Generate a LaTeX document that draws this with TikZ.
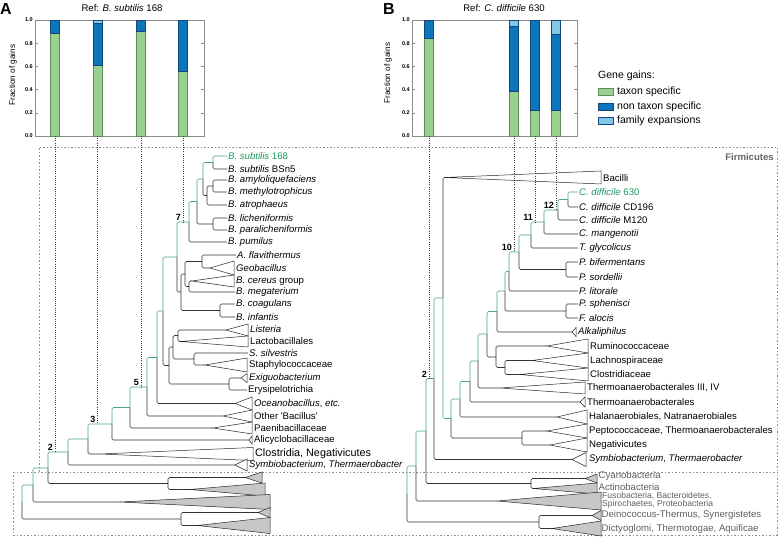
\documentclass[tikz,border=0pt]{standalone}
\usepackage{fontspec}
\setmainfont{Liberation Sans}
\usetikzlibrary{positioning}

\definecolor{taxonGreen}{RGB}{152,208,142}
\definecolor{taxonEdge}{RGB}{95,140,90}
\definecolor{nonTaxonBlue}{RGB}{12,118,188}
\definecolor{nonTaxonEdge}{RGB}{20,70,120}
\definecolor{familyBlue}{RGB}{128,200,230}
\definecolor{pathGreen}{RGB}{72,166,128}
\definecolor{refGreen}{RGB}{30,150,95}
\definecolor{outGray}{RGB}{95,95,95}

\newcommand{\leafsize}{\fontsize{9.6}{11}\selectfont}
\newcommand{\legsize}{\fontsize{10.5}{12}\selectfont}

\tikzset{
  branch/.style={draw=black!80, line width=0.6pt, rounded corners=1.5pt},
  refpath/.style={branch, draw=pathGreen},
  clade/.style={draw=black!85, line width=0.5pt, fill=white},
  outclade/.style={clade, fill=black!22},
  leaf/.style={anchor=west, inner sep=1pt, font=\leafsize},
  outleaf/.style={leaf, inner sep=0.5pt, text=outGray},
  gainnum/.style={anchor=south east, inner sep=0.5pt, xshift=-1.5pt, yshift=0.5pt, font=\bfseries\fontsize{9}{10}\selectfont},
  guide/.style={draw=black!75, line width=0.5pt, dash pattern=on 0.6pt off 1.6pt},
  groupbox/.style={draw=black!45, line width=0.5pt, dash pattern=on 1.5pt off 2pt},
  frame/.style={draw=black!45, line width=0.5pt},
  ticklab/.style={anchor=east, inner sep=1pt, font=\bfseries\fontsize{5.5}{6}\selectfont},
  panel/.style={font=\bfseries\fontsize{16}{16}\selectfont}
}

\begin{document}
\begin{tikzpicture}[x=1pt, y=-1pt]
  \useasboundingbox (0,0) rectangle (780,537);

  % Panel letters and titles
  \node[panel] (panelA) at (6,9) {A};
  \node[panel] (panelB) at (389,9) {B};
  \node[font=\leafsize] (titleA) at (122,8) {Ref: \textit{B. subtilis} 168};
  \node[font=\leafsize] (titleB) at (504,8) {Ref: \textit{C. difficile} 630};
  \node[rotate=90, font=\fontsize{8.2}{9}\selectfont] (yLabA) at (13,75) {Fraction of gains};
  \node[rotate=90, font=\fontsize{8.2}{9}\selectfont] (yLabB) at (388,73) {Fraction of gains};

  % Axes
  \draw[frame] (35,20) rectangle (204,136);
  \draw[frame] (412,20) rectangle (577,136);
  \foreach \v in {0.0,0.2,0.4,0.6,0.8,1.0} {
    \draw[frame] (35,{136-116*\v}) -- (38,{136-116*\v});
    \draw[frame] (204,{136-116*\v}) -- (201,{136-116*\v});
    \draw[frame] (412,{136-116*\v}) -- (415,{136-116*\v});
    \draw[frame] (577,{136-116*\v}) -- (574,{136-116*\v});
    \node[ticklab] at (34,{136-116*\v}) {\v};
    \node[ticklab] at (411,{136-116*\v}) {\v};
  }

  % Bars, reference B. subtilis 168
  \foreach \xx/\tg/\nt [count=\i] in {55/0.89/1.0, 97.5/0.61/0.97, 141/0.90/1.0, 183/0.56/1.0} {
    \filldraw[draw=taxonEdge, fill=taxonGreen, line width=0.4pt] ({\xx-4.5},136) rectangle ({\xx+4.5},{136-116*\tg});
    \filldraw[draw=nonTaxonEdge, fill=nonTaxonBlue, line width=0.4pt] ({\xx-4.5},{136-116*\tg}) rectangle ({\xx+4.5},{136-116*\nt});
    \filldraw[draw=nonTaxonEdge, fill=familyBlue, line width=0.4pt] ({\xx-4.5},{136-116*\nt}) rectangle ({\xx+4.5},20);
    \coordinate (barA\i) at (\xx,136);
  }
  % Bars, reference C. difficile 630
  \foreach \xx/\tg/\nt [count=\i] in {429/0.845/0.995, 514/0.39/0.95, 535/0.22/1.0, 556/0.225/0.875} {
    \filldraw[draw=taxonEdge, fill=taxonGreen, line width=0.4pt] ({\xx-4.5},136) rectangle ({\xx+4.5},{136-116*\tg});
    \filldraw[draw=nonTaxonEdge, fill=nonTaxonBlue, line width=0.4pt] ({\xx-4.5},{136-116*\tg}) rectangle ({\xx+4.5},{136-116*\nt});
    \filldraw[draw=nonTaxonEdge, fill=familyBlue, line width=0.4pt] ({\xx-4.5},{136-116*\nt}) rectangle ({\xx+4.5},20);
    \coordinate (barB\i) at (\xx,136);
  }

  % Legend
  \node[anchor=west, inner sep=1pt, font=\legsize] (legTitle) at (597,76) {Gene gains:};
  \foreach \nm/\yy/\fc/\ec/\lbl in {legTaxon/92/taxonGreen/taxonEdge/taxon specific, legNon/107/nonTaxonBlue/nonTaxonEdge/non taxon specific, legFam/121/familyBlue/nonTaxonEdge/family expansions} {
    \filldraw[draw=\ec, fill=\fc, line width=0.4pt] (598,{\yy-3.5}) rectangle (613,{\yy+3.5});
    \node[anchor=west, inner sep=1pt, font=\legsize] (\nm) at (616,\yy) {\lbl};
  }

  % Group boxes
  \draw[groupbox] (39,472) -- (39,147) -- (777,147) -- (777,472);
  \draw[groupbox] (13,472) rectangle (777,535);
  \node[anchor=north east, inner sep=1pt, text=black!60, font=\bfseries\fontsize{9.6}{11}\selectfont] (firmLab) at (775,152) {Firmicutes};

  % Tree A: inner nodes
  \foreach \nm/\xx/\yy in {nsub/213/162.5, namy/213/186, namyatr/207/195.5, nsubamy/203/179, nlich/213/224,
      nsub3/197/201.5, nsub4/189/222, nflaGeo/202/261.5, ncerMeg/189/286.5, nGeoGrp/185/274, nCoag/220/310.5,
      nGeoCoag/181/292, n7/177/257, nLisLac/178/335.5, nSilSta/194/359, nLSS/173/347, nExiEry/229/384,
      nLact/169/365.5, nBac/163/311, n157/157/357.5, n147/147/387, n130/130/407.5, n112/112/424, n88/88/439,
      n68/68/452, nCyAcA/168/483.5, n48/48/468, n33/33/485, nDeDiA/181/519, rootA/22/502}
    \coordinate (\nm) at (\xx,\yy);

  % Tree A: collapsed clades
  \foreach \nm/\ax/\rx/\yy/\hh in {geoT/210/234/268/7, cerT/192/234/281/6, listT/226/248/330/6, lactT/181/248/341.5/5.5,
      staphT/205/247/365/7, exigT/241/247/378/4.5, oceanT/235/252/403.5/6.5, otherT/223/252/416/6,
      paeniT/213/252/428/6, alicyT/249/252/440/4, closT/100/253/454/6.5, symbAT/235/247/465/6} {
    \coordinate (\nm) at (\ax,\yy);
    \draw[clade] (\nm) -- (\rx,{\yy-\hh}) -- (\rx,{\yy+\hh}) -- cycle;
  }
  \foreach \nm/\ax/\rx/\yy/\hh in {cyanAT/245/262/477.5/5.5, actinAT/190/265/489.5/6.5, fusoAT/120/270/502/7.5,
      deinoAT/258/270/512.5/5, dictyAT/197/270/525.5/8} {
    \coordinate (\nm) at (\ax,\yy);
    \draw[outclade] (\nm) -- (\rx,{\yy-\hh}) -- (\rx,{\yy+\hh}) -- cycle;
  }

  % Tree A: labels
  \node[leaf, text=refGreen] (sub168) at (227,156) {\textit{B. subtilis} 168};
  \foreach \nm/\xx/\yy/\lbl in {bsn5/227/169/{\textit{B. subtilis} BSn5}, amylo/227/180/{\textit{B. amyloliquefaciens}},
      methyl/227/192/{\textit{B. methylotrophicus}}, atroph/227/205/{\textit{B. atrophaeus}},
      lichen/227/218/{\textit{B. licheniformis}}, paralich/227/230/{\textit{B. paralicheniformis}},
      pumil/227/242/{\textit{B. pumilus}}, flavi/236/255/{\textit{A. flavithermus}}, geoL/235/268/{\textit{Geobacillus}},
      cereL/235/281/{\textit{B. cereus} group}, megat/235/292/{\textit{B. megaterium}}, coagul/235/304/{\textit{B. coagulans}},
      infant/235/317/{\textit{B. infantis}}, listL/249/329/{\textit{Listeria}}, lactL/249/341/{Lactobacillales},
      silv/248/353/{\textit{S. silvestris}}, staphL/248/365/{Staphylococcaceae}, exigL/248/378/{\textit{Exiguobacterium}},
      erysi/247/390/{Erysipelotrichia}, oceanL/253/404/{\textit{Oceanobacillus}, \textit{etc.}},
      otherL/253/416/{Other \textquotesingle Bacillus\textquotesingle}, paeniL/253/428/{Paenibacillaceae},
      alicyL/253/440/{Alicyclobacillaceae}, symbAL/248/465/{\textit{Symbiobacterium}, \textit{Thermaerobacter}}}
    \node[leaf] (\nm) at (\xx,\yy) {\lbl};
  \node[leaf, font=\fontsize{10.8}{12}\selectfont] (closL) at (254,454) {Clostridia, Negativicutes};

  % Tree A: branches
  \foreach \pa/\ch in {nsub/bsn5.west, namy/amylo.west, namy/methyl.west, namyatr/namy, namyatr/atroph.west,
      nsubamy/namyatr, nlich/lichen.west, nlich/paralich.west, nsub3/nlich, nsub4/pumil.west,
      nflaGeo/flavi.west, nflaGeo/geoT, ncerMeg/cerT, ncerMeg/megat.west, nGeoGrp/nflaGeo, nGeoGrp/ncerMeg,
      nCoag/coagul.west, nCoag/infant.west, nGeoCoag/nGeoGrp, nGeoCoag/nCoag, n7/nGeoCoag,
      nLisLac/listT, nLisLac/lactT, nSilSta/silv.west, nSilSta/staphT, nLSS/nLisLac, nLSS/nSilSta,
      nExiEry/exigT, nExiEry/erysi.west, nLact/nLSS, nLact/nExiEry, nBac/nLact, n157/oceanT, n147/otherT,
      n130/paeniT, n112/alicyT, n88/closT, n68/symbAT, n48/nCyAcA, nCyAcA/cyanAT, nCyAcA/actinAT,
      n33/fusoAT, rootA/nDeDiA, nDeDiA/deinoAT, nDeDiA/dictyAT}
    \draw[branch] (\pa) |- (\ch);
  \foreach \pa/\ch in {rootA/n33, n33/n48, n48/n68, n68/n88, n88/n112, n112/n130, n130/n147, n147/n157,
      n157/nBac, nBac/n7, n7/nsub4, nsub4/nsub3, nsub3/nsubamy, nsubamy/nsub, nsub/sub168.west}
    \draw[refpath] (\pa) |- (\ch);

  % Tree B: inner nodes
  \foreach \nm/\xx/\yy in {ncd/568/199.5, n12/558/210, n11b/544/222, n11/531/235, nbifsor/566/269.5, n519/519/252,
      n10/509/271.5, nsphalo/566/311, n505/505/291, n497/497/311.5, nLC/505/367.5, nRLC/496/357, n487/487/334,
      n478/478/361, n470/470/381.5, n460/460/399, nPN/522/438, nClos/451/418.5, nFirm2/443/298, nFirm/434/378.5,
      nCyAc/531/483.5, n2/426/431, n416/416/466, nDeDi/539/522, rootB/407/494}
    \coordinate (\nm) at (\xx,\yy);

  % Tree B: collapsed clades
  \foreach \nm/\ax/\rx/\yy/\hh in {bacT/445/601/177.5/6.5, alkT/572/576/332/4.5, rumT/547/588/346/7,
      lacT/532/588/360.5/7.5, cloT/520/588/374.5/6.5, th3T/500/585/388/6, thT/580/585/402/5, halT/557/587/417/7,
      pepT/547/587/431/7, negT/550/587/445/7, symBT/572/586/459.5/7} {
    \coordinate (\nm) at (\ax,\yy);
    \draw[clade] (\nm) -- (\rx,{\yy-\hh}) -- (\rx,{\yy+\hh}) -- cycle;
  }
  \foreach \nm/\ax/\rx/\yy/\hh in {cyaBT/585/597/478.5/4.5, actBT/533/597/488.5/5.5, fusBT/497/601/501/9,
      deiBT/592/601/515.5/5, dicBT/552/601/528.5/7.5} {
    \coordinate (\nm) at (\ax,\yy);
    \draw[outclade] (\nm) -- (\rx,{\yy-\hh}) -- (\rx,{\yy+\hh}) -- cycle;
  }

  % Tree B: labels
  \node[leaf, text=refGreen] (cd630) at (578,192) {\textit{C. difficile} 630};
  \foreach \nm/\xx/\yy/\lbl in {cd196/578/207/{\textit{C. difficile} CD196}, m120/578/220/{\textit{C. difficile} M120},
      mang/578/234/{\textit{C. mangenotii}}, tgly/578/248/{\textit{T. glycolicus}}, bifer/578/262/{\textit{P. bifermentans}},
      sordel/578/277/{\textit{P. sordellii}}, litor/578/291/{\textit{P. litorale}}, sphen/578/304/{\textit{P. sphenisci}},
      aloc/578/318/{\textit{F. alocis}}, alkL/577/332/{\textit{Alkaliphilus}}, bacL/602/178/{Bacilli},
      rumL/589/346/{Ruminococcaceae}, lacL/589/361/{Lachnospiraceae}, cloL/589/374/{Clostridiaceae},
      th3L/586/388/{Thermoanaerobacterales III, IV}, thL/586/402/{Thermoanaerobacterales},
      halL/588/417/{Halanaerobiales, Natranaerobiales}, pepL/588/431/{Peptococcaceae, Thermoanaerobacterales},
      negL/588/445/{Negativicutes}, symBL/588/459/{\textit{Symbiobacterium}, \textit{Thermaerobacter}}}
    \node[leaf] (\nm) at (\xx,\yy) {\lbl};
  \foreach \nm/\xx/\yy/\lbl in {cyaL/598/476.5/{Cyanobacteria}, actL/598/487/{Actinobacteria},
      deiL/601/515.5/{Deinococcus-Thermus, Synergistetes}, dicL/601/529/{Dictyoglomi, Thermotogae, Aquificae}}
    \node[outleaf] (\nm) at (\xx,\yy) {\lbl};
  \node[outleaf, inner sep=0pt, align=left, font=\fontsize{8.6}{7.9}\selectfont] (fusL) at (602,500.5) {Fusobacteria, Bacteroidetes,\\Spirochaetes, Proteobacteria};

  % Tree B: branches
  \foreach \pa/\ch in {ncd/cd196.west, n12/m120.west, n11b/mang.west, n11/tgly.west, nbifsor/bifer.west,
      nbifsor/sordel.west, n519/nbifsor, n10/litor.west, nsphalo/sphen.west, nsphalo/aloc.west, n505/nsphalo,
      n497/alkT, nLC/lacT, nLC/cloT, nRLC/rumT, nRLC/nLC, n487/nRLC, n478/th3T, n470/thT, n460/halT,
      nPN/pepT, nPN/negT, nClos/nPN, nFirm2/bacT, nFirm/symBT, n2/nCyAc, nCyAc/cyaBT, nCyAc/actBT,
      n416/fusBT, rootB/nDeDi, nDeDi/deiBT, nDeDi/dicBT}
    \draw[branch] (\pa) |- (\ch);
  \foreach \pa/\ch in {rootB/n416, n416/n2, n2/nFirm, nFirm/nFirm2, nFirm2/nClos, nClos/n460, n460/n470,
      n470/n478, n478/n487, n487/n497, n497/n505, n505/n10, n10/n519, n519/n11, n11/n11b, n11b/n12,
      n12/ncd, ncd/cd630.west}
    \draw[refpath] (\pa) |- (\ch);

  % Bars to branches
  \draw[guide] (barA1) -- (barA1 |- n68);
  \draw[guide] (barA2) -- (barA2 |- n112);
  \draw[guide] (barA3) -- (barA3 |- n147);
  \draw[guide] (barA4) -- (barA4 |- nsub4);
  \draw[guide] (barB1) -- (barB1 |- nFirm);
  \draw[guide] (barB2) -- (barB2 |- n519);
  \draw[guide] (barB3) -- (barB3 |- n11b);
  \draw[guide] (barB4) -- (barB4 |- n12);
  \node[gainnum] (numA2) at (barA1 |- n68) {2};
  \node[gainnum] (numA3) at (barA2 |- n112) {3};
  \node[gainnum] (numA5) at (barA3 |- n147) {5};
  \node[gainnum] (numA7) at (barA4 |- nsub4) {7};
  \node[gainnum] (numB2) at (barB1 |- nFirm) {2};
  \node[gainnum] (numB10) at (barB2 |- n519) {10};
  \node[gainnum] (numB11) at (barB3 |- n11b) {11};
  \node[gainnum] (numB12) at (barB4 |- n12) {12};
\end{tikzpicture}
\end{document}
